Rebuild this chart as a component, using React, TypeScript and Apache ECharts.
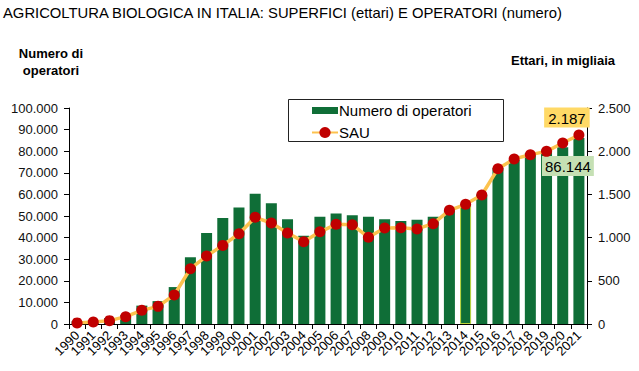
import React, { useEffect, useRef } from "react";
import * as echarts from "echarts";

const years = [
  "1990", "1991", "1992", "1993", "1994", "1995", "1996", "1997", "1998", "1999",
  "2000", "2001", "2002", "2003", "2004", "2005", "2006", "2007", "2008", "2009",
  "2010", "2011", "2012", "2013", "2014", "2015", "2016", "2017", "2018", "2019",
  "2020", "2021",
];

const operatori = [
  1300, 1700, 2700, 4000, 8500, 10600, 17100, 30900, 42100, 49100,
  53900, 60300, 55900, 48500, 40900, 49700, 51100, 50300, 49700, 48500,
  47700, 48300, 49700, 52400, 55400, 59900, 72200, 75900, 79200, 80700,
  81800, 86144,
];

const sau = [
  13, 23, 39, 85, 158, 204, 336, 640, 787, 910,
  1045, 1235, 1169, 1053, 953, 1067, 1154, 1150, 1003, 1111,
  1115, 1100, 1161, 1316, 1385, 1493, 1798, 1910, 1960, 1998,
  2095, 2187,
];

const leftTicks = { min: 0, max: 100000, interval: 10000 };
const rightTicks = { min: 0, max: 2500, interval: 500 };

const FONT = "'Liberation Sans', Arial, Helvetica, sans-serif";

function fmt(v: number): string {
  return String(Math.round(v)).replace(/\B(?=(\d{3})+(?!\d))/g, ".");
}

export default function App() {
  const ref = useRef<HTMLDivElement>(null);
  useEffect(() => {
    document.body.style.margin = "0";
    if (!ref.current) return;
    const chart = echarts.init(ref.current, null, { renderer: "svg" });
    const last = years.length - 1;
    const barData = operatori.map((v, i) => {
      if (i === last) {
        return {
          value: v,
          label: {
            show: true,
            position: "insideTop",
            distance: 5,
            offset: [-11, 13],
            formatter: () => fmt(v),
            backgroundColor: "#c5e0b4",
            padding: [3, 3, 2, 3],
            fontSize: 15,
            color: "#000",
            fontFamily: FONT,
          },
        };
      }
      if (years[i] === "2014") {
        return { value: v, itemStyle: { borderColor: "#b9d53a", borderWidth: 1 } };
      }
      return v;
    });
    const lineData = sau.map((v, i) => {
      if (i === last) {
        return {
          value: v,
          label: {
            show: true,
            position: "top",
            distance: 2,
            offset: [-12, 0],
            formatter: () => fmt(v),
            backgroundColor: "#ffd966",
            padding: [3, 4, 2, 4],
            fontSize: 15,
            color: "#000",
            fontFamily: FONT,
          },
        };
      }
      return v;
    });
    chart.setOption({
      animation: false,
      textStyle: { fontFamily: FONT },
      grid: { left: 69, right: 52, top: 108, bottom: 47, containLabel: false },
      graphic: [
        {
          type: "text",
          x: 3,
          y: 13,
          style: {
            text: "AGRICOLTURA BIOLOGICA IN ITALIA: SUPERFICI (ettari) E OPERATORI (numero)",
            fontSize: 14.8,
            fontFamily: FONT,
            fill: "#000",
            verticalAlign: "middle",
            align: "left",
          },
        },
        {
          type: "text",
          x: 51,
          y: 61.5,
          style: {
            text: "Numero di\noperatori",
            fontSize: 13,
            fontWeight: "bold",
            fontFamily: FONT,
            fill: "#000",
            align: "center",
            verticalAlign: "middle",
            lineHeight: 17,
          },
        },
        {
          type: "text",
          x: 615,
          y: 60,
          style: {
            text: "Ettari, in migliaia",
            fontSize: 13,
            fontWeight: "bold",
            fontFamily: FONT,
            fill: "#000",
            align: "right",
            verticalAlign: "middle",
          },
        },
        {
          type: "rect",
          shape: { x: 288.5, y: 99.5, width: 215, height: 42 },
          style: { fill: "#fff", stroke: "#222", lineWidth: 1 },
          z: 1,
        },
      ],
      legend: {
        orient: "vertical",
        left: 288,
        top: 99,
        padding: [4, 10, 3, 23],
        itemWidth: 26,
        itemHeight: 14,
        itemGap: 7,
        z: 10,
        textStyle: { fontSize: 15, color: "#000", fontFamily: FONT, padding: [0, 0, 0, -4] },
        data: [
          { name: "Numero di operatori", icon: "path://M0,0H26V7H0Z" },
          { name: "SAU" },
        ],
      },
      xAxis: {
        type: "category",
        data: years,
        axisLine: { lineStyle: { color: "#000", width: 1 } },
        axisTick: { show: true, interval: 0, length: 5, lineStyle: { color: "#000" } },
        axisLabel: {
          interval: 0,
          rotate: 45,
          fontSize: 13,
          color: "#000",
          margin: 9,
          fontFamily: FONT,
        },
      },
      yAxis: [
        {
          type: "value",
          min: leftTicks.min,
          max: leftTicks.max,
          interval: leftTicks.interval,
          axisLine: { show: true, lineStyle: { color: "#000" } },
          axisTick: { show: true, length: 5, lineStyle: { color: "#000" } },
          splitLine: { show: false },
          axisLabel: {
            formatter: (v: number) => fmt(v),
            fontSize: 13,
            color: "#111",
            margin: 11,
            fontFamily: FONT,
          },
        },
        {
          type: "value",
          min: rightTicks.min,
          max: rightTicks.max,
          interval: rightTicks.interval,
          position: "right",
          axisLine: { show: true, lineStyle: { color: "#000" } },
          axisTick: { show: true, length: 5, lineStyle: { color: "#000" } },
          splitLine: { show: false },
          axisLabel: {
            formatter: (v: number) => fmt(v),
            fontSize: 13,
            color: "#111",
            margin: 11,
            fontFamily: FONT,
          },
        },
      ],
      series: [
        {
          name: "Numero di operatori",
          type: "bar",
          data: barData,
          barWidth: "68%",
          itemStyle: { color: "#0f6e37" },
          z: 2,
        },
        {
          name: "SAU",
          type: "line",
          yAxisIndex: 1,
          data: lineData,
          symbol: "circle",
          symbolSize: 11,
          lineStyle: { color: "#fcc24e", width: 3.5 },
          itemStyle: { color: "#c00000" },
          z: 3,
        },
      ],
    });
    return () => chart.dispose();
  }, []);
  return <div ref={ref} style={{ width: 639, height: 371 }} />;
}
